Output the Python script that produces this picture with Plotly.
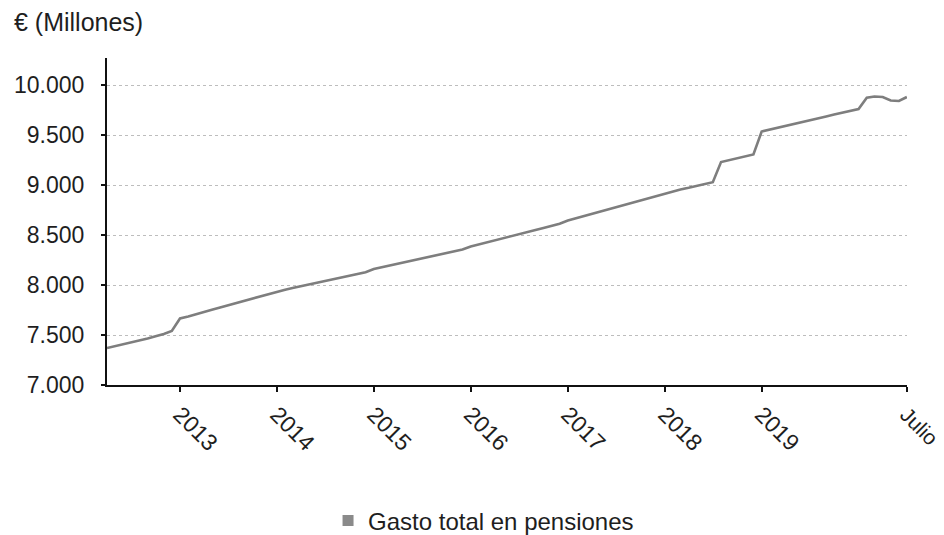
import pandas as pd
import plotly.graph_objects as go

# Monthly total pension expenditure (million €), April 2012 - July 2020
v2012 = [7370, 7388, 7405, 7425, 7445, 7465, 7488, 7510, 7540]  # Apr-Dec
v2013 = [7665, 7685, 7708, 7730, 7752, 7775, 7797, 7820, 7842, 7865, 7888, 7910]
v2014 = [7935, 7953, 7970, 7988, 8005, 8022, 8040, 8058, 8075, 8093, 8110, 8128]
v2015 = [8160, 8178, 8195, 8212, 8230, 8248, 8265, 8283, 8300, 8318, 8336, 8355]
v2016 = [8385, 8405, 8425, 8447, 8468, 8490, 8510, 8530, 8550, 8570, 8590, 8612]
v2017 = [8645, 8668, 8690, 8712, 8734, 8756, 8778, 8800, 8822, 8844, 8866, 8888]
v2018 = [8915, 8935, 8955, 8972, 8990, 9008, 9028, 9230, 9250, 9270, 9288, 9305]
v2019 = [9535, 9555, 9575, 9595, 9613, 9632, 9650, 9668, 9686, 9705, 9722, 9740]
v2020 = [9760, 9872, 9885, 9880, 9845, 9840, 9880]  # Jan-Jul

values = v2012 + v2013 + v2014 + v2015 + v2016 + v2017 + v2018 + v2019 + v2020
months = pd.date_range("2012-04-01", periods=len(values), freq="MS")

tick_dates = ["2013-01-01", "2014-01-01", "2015-01-01", "2016-01-01",
              "2017-01-01", "2018-01-01", "2019-01-01", "2020-07-01"]
tick_labels = ["2013", "2014", "2015", "2016", "2017", "2018", "2019",
               "<span style='font-size:21px'>Julio</span>"]
y_ticks = [7000, 7500, 8000, 8500, 9000, 9500, 10000]

series_name = "Gasto total en pensiones"
unit_label = "€ (Millones)"

font_family = "Liberation Sans, Arial, sans-serif"
txt_color = "#1e1e1e"

fig = go.Figure()
fig.add_trace(go.Scatter(
    x=months, y=values, mode="lines", name=series_name,
    line=dict(color="#7e7e7e", width=2.6),
    showlegend=False,
))
# legend marker as a grey square
fig.add_trace(go.Scatter(
    x=[None], y=[None], mode="markers", name=series_name,
    marker=dict(symbol="square", size=11, color="#8a8a8a"),
    showlegend=True,
))

fig.update_layout(
    width=944, height=535,
    margin=dict(l=107, r=37, t=58, b=150, autoexpand=False),
    paper_bgcolor="white", plot_bgcolor="white",
    separators=",.",
    font=dict(family=font_family, size=23, color=txt_color),
    showlegend=True,
    legend=dict(orientation="h", xref="container", yref="container",
                x=0.3475, xanchor="left",
                y=0.0262, yanchor="middle",
                font=dict(size=24, color=txt_color),
                itemwidth=30, bgcolor="rgba(0,0,0,0)"),
    xaxis=dict(
        type="date",
        range=["2012-04-01", "2020-07-01 12:00"],
        tickvals=tick_dates, ticktext=tick_labels,
        tickangle=45,
        showgrid=False, zeroline=False,
        showline=True, linecolor="#111", linewidth=2,
        ticks="outside", ticklen=5, tickwidth=2, tickcolor="#111",
        tickfont=dict(size=23, color=txt_color),
        ticklabeloverflow="allow",
        automargin=False,
    ),
    yaxis=dict(
        range=[7000, 10270],
        tickvals=y_ticks, tickformat=",.0f",
        showgrid=True, gridcolor="#bdbdbd", griddash="dot", gridwidth=1,
        zeroline=False,
        showline=True, linecolor="#111", linewidth=2,
        ticks="outside", ticklen=4, tickwidth=2, tickcolor="#111",
        tickfont=dict(size=23, color=txt_color),
        ticklabelstandoff=12,
        automargin=False,
    ),
    annotations=[dict(
        text=unit_label, xref="paper", yref="paper",
        x=-0.11875, y=1.11, xanchor="left", yanchor="middle",
        showarrow=False, font=dict(size=25, color=txt_color),
    )],
)

fig.write_html(
    "out.html",
    config={"displayModeBar": False},
    post_script="document.body.style.margin='0';document.body.style.overflow='hidden';",
)
